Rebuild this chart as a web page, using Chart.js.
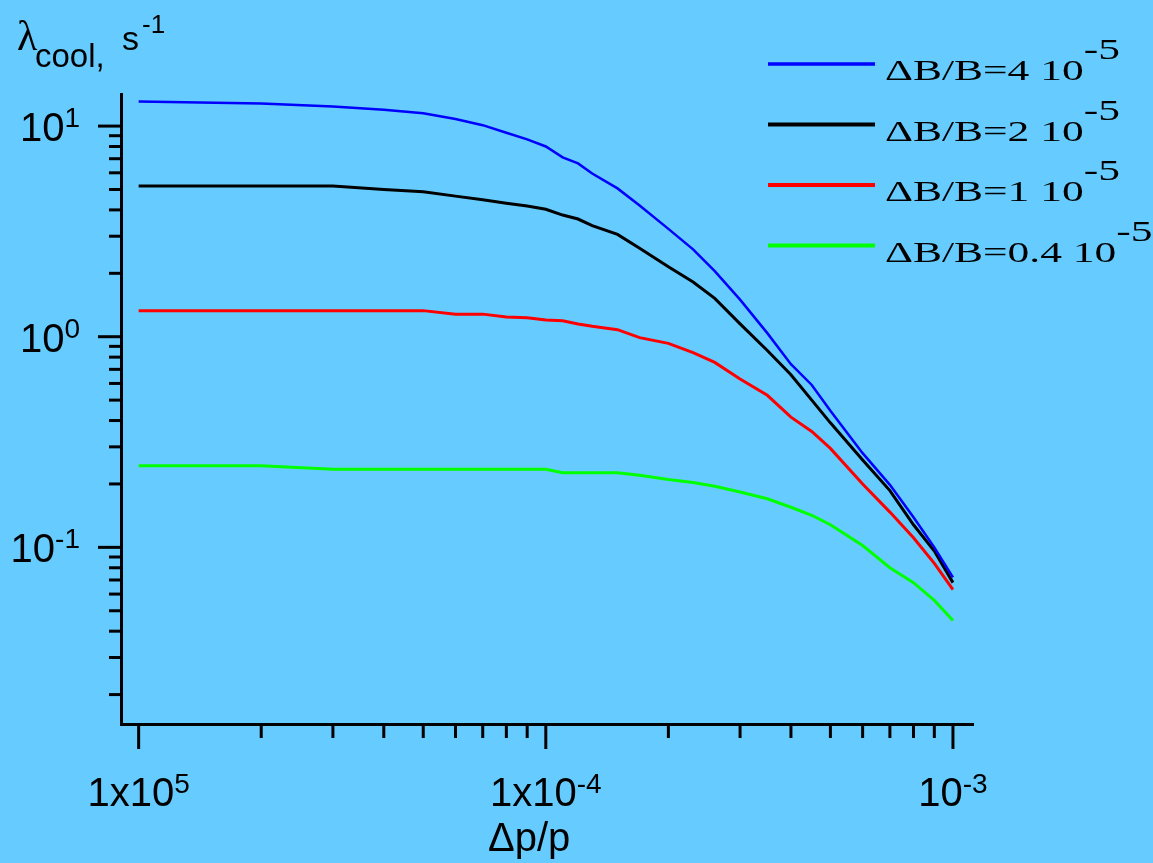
<!DOCTYPE html>
<html>
<head>
<meta charset="utf-8">
<script src="https://cdn.jsdelivr.net/npm/chart.js@4.4.0/dist/chart.umd.min.js"></script>
<style>
    body { margin: 0; background: #66CCFF; }
    canvas { display: block; }
</style>
</head>
<body>
<canvas id="coolChart" width="1153" height="863"></canvas>
<script>
// momentum spread dp/p (x axis)
const dpp = [1e-5, 2e-5, 3e-5, 4e-5, 5e-5, 6e-5, 7e-5, 8e-5, 9e-5, 1e-4, 1.1e-4, 1.2e-4, 1.3e-4, 1.5e-4, 1.7e-4,
    2e-4, 2.3e-4, 2.6e-4, 3e-4, 3.5e-4, 4e-4, 4.5e-4, 5e-4, 6e-4, 7e-4, 8e-4, 9e-4, 1e-3];

// cooling rate, s^-1, one list per dB/B
const coolB4 = [13.1, 12.8, 12.4, 11.95, 11.5, 10.8, 10.1, 9.3, 8.65, 8.0, 7.1, 6.65, 5.95, 5.06, 4.2,
    3.25, 2.6, 2.05, 1.5, 1.04, 0.74, 0.59, 0.445, 0.28, 0.198, 0.139, 0.1, 0.072];
const coolB2 = [5.2, 5.2, 5.2, 5.0, 4.88, 4.65, 4.47, 4.3, 4.17, 4.03, 3.78, 3.62, 3.37, 3.06, 2.63,
    2.15, 1.82, 1.52, 1.15, 0.86, 0.66, 0.5, 0.39, 0.26, 0.186, 0.128, 0.096, 0.068];
const coolB1 = [1.33, 1.33, 1.33, 1.33, 1.33, 1.28, 1.28, 1.24, 1.23, 1.20, 1.19, 1.15, 1.12, 1.08, 0.99,
    0.93, 0.84, 0.755, 0.63, 0.527, 0.415, 0.355, 0.295, 0.2, 0.147, 0.111, 0.084, 0.063];
const coolB04 = [0.244, 0.244, 0.235, 0.235, 0.235, 0.235, 0.235, 0.235, 0.235, 0.235, 0.226, 0.226, 0.226, 0.226, 0.22,
    0.21, 0.203, 0.195, 0.183, 0.170, 0.155, 0.142, 0.128, 0.102, 0.08, 0.068, 0.056, 0.045];

const seriesLabels = ['\u0394B/B=4 10', '\u0394B/B=2 10', '\u0394B/B=1 10', '\u0394B/B=0.4 10'];
const seriesSup = ['-5', '-5', '-5', '-5'];

// tick labels: [base, exponent]
const xTickValues = [1e-5, 1e-4, 1e-3];
const xTickLabels = [['1x10', '5'], ['1x10', '-4'], ['10', '-3']];
const yTickValues = [10, 1, 0.1];
const yTickLabels = [['10', '1'], ['10', '0'], ['10', '-1']];

const toPoints = (ys) => dpp.map((x, i) => ({ x: x, y: ys[i] }));

function drawSup(ctx, base, sup, x, y, baseFont, supFont, rise, align) {
    ctx.font = baseFont;
    const wb = ctx.measureText(base).width;
    ctx.font = supFont;
    const ws = ctx.measureText(sup).width;
    let x0 = x;
    if (align === 'center') x0 = x - (wb + ws) / 2;
    if (align === 'right') x0 = x - (wb + ws);
    ctx.font = baseFont;
    ctx.fillText(base, x0, y);
    ctx.font = supFont;
    ctx.fillText(sup, x0 + wb, y - rise);
}

const axisDecor = {
    id: 'axisDecor',
    afterDraw(chart) {
        const ctx = chart.ctx;
        const area = chart.chartArea;
        const xs = chart.scales.x;
        const ys = chart.scales.y;
        ctx.save();
        ctx.strokeStyle = '#000';
        ctx.fillStyle = '#000';
        ctx.lineWidth = 3;
        ctx.textAlign = 'left';
        ctx.textBaseline = 'alphabetic';

        // y ticks (outside, left)
        for (let d = -2; d <= 1; d++) {
            for (let m = 1; m <= 9; m++) {
                const v = m * Math.pow(10, d);
                if (v < ys.min || v > ys.max) continue;
                const py = ys.getPixelForValue(v);
                const len = m === 1 ? 23 : 12;
                ctx.beginPath();
                ctx.moveTo(area.left - len, py);
                ctx.lineTo(area.left, py);
                ctx.stroke();
            }
        }
        // x ticks (outside, below)
        for (let d = -6; d <= -3; d++) {
            for (let m = 1; m <= 9; m++) {
                const v = m * Math.pow(10, d);
                if (v < xs.min || v > xs.max) continue;
                const px = xs.getPixelForValue(v);
                const len = m === 1 ? 25 : 14;
                ctx.beginPath();
                ctx.moveTo(px, area.bottom);
                ctx.lineTo(px, area.bottom + len);
                ctx.stroke();
            }
        }

        const baseFont = '40px "Liberation Sans", Arial, sans-serif';
        const supFont = '28px "Liberation Sans", Arial, sans-serif';
        yTickValues.forEach((v, i) => {
            const py = ys.getPixelForValue(v);
            drawSup(ctx, yTickLabels[i][0], yTickLabels[i][1], 80, py + 15, baseFont, supFont, 14, 'right');
        });
        xTickValues.forEach((v, i) => {
            const px = xs.getPixelForValue(v);
            drawSup(ctx, xTickLabels[i][0], xTickLabels[i][1], px, 806, baseFont, supFont, 13, 'center');
        });

        // axis titles
        ctx.font = baseFont;
        ctx.fillText('\u0394p/p', 488, 851);
        ctx.font = '42px "Liberation Serif", serif';
        ctx.fillText('\u03BB', 17, 50);
        ctx.font = '33px "Liberation Sans", Arial, sans-serif';
        ctx.fillText('cool,', 35, 67);
        ctx.font = '34px "Liberation Sans", Arial, sans-serif';
        ctx.fillText('s', 122, 50);
        ctx.font = '26px "Liberation Sans", Arial, sans-serif';
        ctx.fillText('-1', 142, 33);

        // legend
        chart.data.datasets.forEach((ds, i) => {
            const ly = 64 + i * 60.5;
            ctx.strokeStyle = ds.borderColor;
            ctx.lineWidth = ds.borderWidth + 1;
            ctx.beginPath();
            ctx.moveTo(768, ly);
            ctx.lineTo(875, ly);
            ctx.stroke();
            ctx.save();
            ctx.translate(885, ly + 16);
            ctx.scale(1.45, 1);
            ctx.fillStyle = '#000';
            drawSup(ctx, seriesLabels[i], seriesSup[i], 0, 0,
                '30px "Liberation Serif", serif', '30px "Liberation Serif", serif', 21, 'left');
            ctx.restore();
        });
        ctx.restore();
    }
};

const ctx = document.getElementById('coolChart').getContext('2d');
new Chart(ctx, {
    type: 'line',
    data: {
        datasets: [{
            label: seriesLabels[0],
            data: toPoints(coolB4),
            borderColor: '#0000FF',
            borderWidth: 2.5
        }, {
            label: seriesLabels[1],
            data: toPoints(coolB2),
            borderColor: '#000000',
            borderWidth: 3
        }, {
            label: seriesLabels[2],
            data: toPoints(coolB1),
            borderColor: '#FF0000',
            borderWidth: 3
        }, {
            label: seriesLabels[3],
            data: toPoints(coolB04),
            borderColor: '#00FF00',
            borderWidth: 3
        }]
    },
    options: {
        responsive: false,
        animation: false,
        layout: {
            padding: { left: 121, right: 180, top: 94, bottom: 139 }
        },
        elements: {
            point: { radius: 0 },
            line: { tension: 0, fill: false }
        },
        plugins: {
            legend: { display: false },
            tooltip: { enabled: false }
        },
        scales: {
            x: {
                type: 'logarithmic',
                min: 9.05e-6,
                max: 1.12e-3,
                grid: { display: false, drawTicks: false },
                ticks: { display: false },
                border: { display: true, color: '#000', width: 3 }
            },
            y: {
                type: 'logarithmic',
                min: 0.0145,
                max: 14.2,
                grid: { display: false, drawTicks: false },
                ticks: { display: false },
                border: { display: true, color: '#000', width: 3 }
            }
        }
    },
    plugins: [axisDecor]
});
</script>
</body>
</html>
